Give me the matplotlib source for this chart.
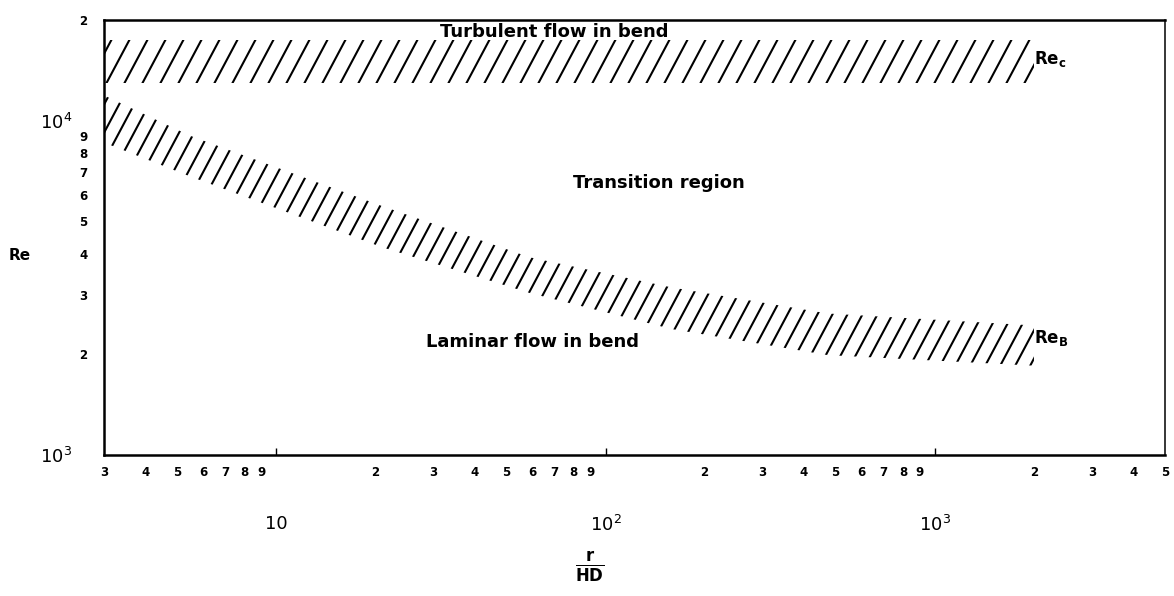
import numpy as np
import matplotlib
matplotlib.use("Agg")
import matplotlib.pyplot as plt
from matplotlib.collections import LineCollection
from matplotlib.transforms import Affine2D

# ---------------- data ----------------
x_lim = [3, 5000]
y_lim = [1e3, 2e4]

# Re_c band (turbulent limit)
rec_x = [3, 2000]
rec_low = [13000, 13000]
rec_high = [17400, 17400]

# Re_B band (laminar limit)
reb_x = [3, 5.5, 21, 59, 159, 473, 2000]
reb_high = [11900, 9000, 5550, 3900, 3170, 2650, 2440]
reb_low = [8600, 6800, 4180, 3050, 2380, 1990, 1850]

x_major_ticks = [10, 100, 1000]
x_major_labels = ["10", r"$\mathregular{10^2}$", r"$\mathregular{10^3}$"]
x_minor_ticks = [3, 4, 5, 6, 7, 8, 9,
                 20, 30, 40, 50, 60, 70, 80, 90,
                 200, 300, 400, 500, 600, 700, 800, 900,
                 2000, 3000, 4000, 5000]
x_minor_labels = ["3", "4", "5", "6", "7", "8", "9",
                  "2", "3", "4", "5", "6", "7", "8", "9",
                  "2", "3", "4", "5", "6", "7", "8", "9",
                  "2", "3", "4", "5"]

y_major_ticks = [1e3, 1e4]
y_major_labels = [r"$\mathregular{10^3}$", r"$\mathregular{10^4}$"]
y_minor_ticks = [2000, 3000, 4000, 5000, 6000, 7000, 8000, 9000, 20000]
y_minor_labels = ["2", "3", "4", "5", "6", "7", "8", "9", "2"]

# ---------------- figure ----------------
FW, FH = 1174, 596
AX_L, AX_R, AX_T, AX_B = 104, 1165, 20, 455
W, H = AX_R - AX_L, AX_B - AX_T

fig = plt.figure(figsize=(FW / 100, FH / 100), dpi=100)
ax = fig.add_axes([AX_L / FW, 1 - AX_B / FH, W / FW, H / FH])
ax.set_xscale("log")
ax.set_yscale("log")
ax.set_xlim(*x_lim)
ax.set_ylim(*y_lim)

for side, sp in ax.spines.items():
    sp.set_linewidth(1.8 if side != "right" else 1.1)
    sp.set_color("black")


def hatched_band(x, lo, hi, spacing, angle=62, lw=1.5):
    poly = ax.fill_between(x, lo, hi, facecolor="none", edgecolor="none")
    dx = H / np.tan(np.radians(angle))
    starts = np.arange(-dx, W + spacing, spacing)
    segs = [[(s, 0), (s + dx, H)] for s in starts]
    lc = LineCollection(segs, colors="black", linewidths=lw,
                        transform=Affine2D().scale(1 / W, 1 / H) + ax.transAxes)
    lc.set_clip_path(poly.get_paths()[0], ax.transData)
    ax.add_collection(lc, autolim=False)


hatched_band(rec_x, rec_low, rec_high, spacing=18)
hatched_band(reb_x, reb_low, reb_high, spacing=15)

# ticks
ax.set_xticks(x_major_ticks, x_major_labels)
ax.set_xticks(x_minor_ticks, x_minor_labels, minor=True)
ax.set_yticks(y_major_ticks, y_major_labels)
ax.set_yticks(y_minor_ticks, y_minor_labels, minor=True)
ax.set_xlim(*x_lim)
ax.set_ylim(*y_lim)

ax.tick_params(axis="x", which="major", direction="in", length=5, width=1.0,
               pad=43, labelsize=13)
ax.tick_params(axis="x", which="minor", length=0, pad=8, labelsize=8.5)
ax.tick_params(axis="y", which="major", length=0, pad=23, labelsize=13)
ax.tick_params(axis="y", which="minor", length=0, pad=12, labelsize=8.5)
for lbl in ax.get_xticklabels(minor=True) + ax.get_yticklabels(minor=True):
    lbl.set_fontweight("bold")

# axis labels
ax.set_ylabel("Re", rotation=0, fontsize=11, fontweight="bold")
ax.yaxis.set_label_coords(-(AX_L - 20) / W, (AX_B - 263) / H)
fig.text(590 / FW, 1 - 567 / FH, r"$\frac{\mathbf{r}}{\mathbf{HD}}$",
         fontsize=17, ha="center", va="center")


def axfrac(px, py):
    return (px - AX_L) / W, (AX_B - py) / H


ax.text(*axfrac(554, 32), "Turbulent flow in bend", transform=ax.transAxes,
        ha="center", va="center", fontsize=13, fontweight="bold")
ax.text(*axfrac(659, 183), "Transition region", transform=ax.transAxes,
        ha="center", va="center", fontsize=13, fontweight="bold")
ax.text(*axfrac(532, 342), "Laminar flow in bend", transform=ax.transAxes,
        ha="center", va="center", fontsize=13, fontweight="bold")
ax.text(*axfrac(1034, 59), r"$\mathbf{Re}_\mathbf{c}$", transform=ax.transAxes,
        ha="left", va="center", fontsize=12)
ax.text(*axfrac(1034, 338), r"$\mathbf{Re}_\mathbf{B}$", transform=ax.transAxes,
        ha="left", va="center", fontsize=12)

fig.savefig("out.png", dpi=100, facecolor="white")
